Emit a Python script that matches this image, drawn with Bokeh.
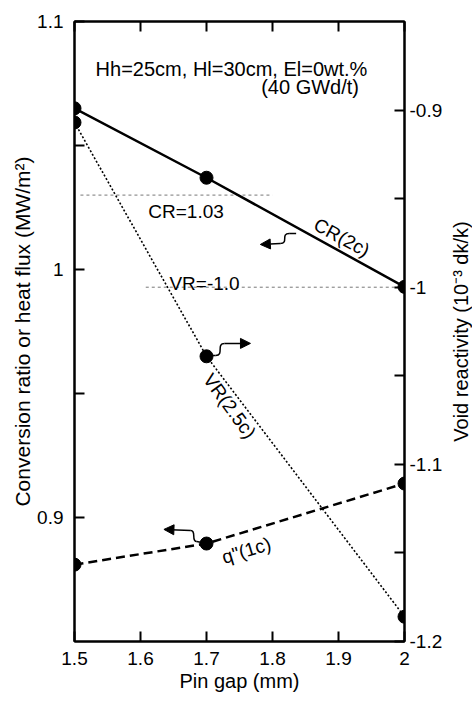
from bokeh.plotting import figure
from bokeh.layouts import row
from bokeh.models import (Range1d, LinearAxis, FixedTicker, CustomJSTickFormatter,
                          Arrow, NormalHead, Label)
from bokeh.embed import file_html
from bokeh.resources import INLINE

# ---- data ----
pin_gap = [1.5, 1.7, 2.0]
conversion_ratio = [1.065, 1.037, 0.993]      # CR(2c), left axis
void_reactivity = [-0.907, -1.039, -1.186]    # VR(2.5c), right axis
heat_flux = [0.881, 0.8895, 0.9137]           # q"(1c), left axis

x_ticks = [1.5, 1.6, 1.7, 1.8, 1.9, 2.0]
left_ticks = [0.9, 1.0, 1.1]
left_minor = [0.95, 1.05]
right_ticks = [-0.9, -1.0, -1.1, -1.2]
right_minor = [-0.95, -1.05, -1.15]
cr_target = 1.03
vr_target = -1.0

FONT = "Liberation Sans"
H = 698
TOP, BOTTOM = 21, 57

p = figure(width=445, height=H, x_range=Range1d(1.5, 2.0), y_range=Range1d(0.85, 1.1),
           output_backend="svg", toolbar_location=None,
           min_border_left=74, min_border_right=37, min_border_top=TOP, min_border_bottom=BOTTOM)
p.extra_y_ranges = {"vr": Range1d(-1.2, -0.85)}
p.grid.visible = False
p.outline_line_color = "black"
p.outline_line_width = 2
p.background_fill_color = "white"

fmt = CustomJSTickFormatter(code="return (Math.round(tick*100)/100).toString();")


def style(ax, label_size="19px"):
    ax.axis_line_color = "black"
    ax.axis_line_width = 2
    ax.major_tick_in = 10
    ax.major_tick_out = 0
    ax.minor_tick_in = 10
    ax.minor_tick_out = 0
    ax.major_tick_line_width = 2
    ax.minor_tick_line_width = 2
    ax.major_tick_line_color = "black"
    ax.minor_tick_line_color = "black"
    ax.major_label_text_font = FONT
    ax.major_label_text_font_size = label_size
    ax.major_label_text_color = "black"
    ax.axis_label_text_font = FONT
    ax.axis_label_text_font_size = "20px"
    ax.axis_label_text_font_style = "normal"
    ax.axis_label_text_color = "black"
    ax.axis_label_standoff = 0
    ax.formatter = fmt


xa = p.xaxis[0]
xa.ticker = FixedTicker(ticks=x_ticks)
style(xa)
xa.major_label_standoff = 10
xa.axis_label = "Pin gap (mm)"
xa.axis_label_standoff = 2

ya = p.yaxis[0]
ya.ticker = FixedTicker(ticks=left_ticks, minor_ticks=left_minor)
style(ya)
ya.major_label_standoff = 11
ya.axis_label = "Conversion ratio or heat flux (MW/m\u00b2)"
ya.axis_label_text_font_size = "21px"

ra = LinearAxis(y_range_name="vr", ticker=FixedTicker(ticks=right_ticks, minor_ticks=right_minor))
style(ra)
ra.major_label_standoff = 5
p.add_layout(ra, "right")

# top axis: ticks only (as minor ticks, so no labels are drawn)
ta = LinearAxis(ticker=FixedTicker(ticks=[], minor_ticks=x_ticks))
style(ta)
p.add_layout(ta, "above")

# ---- reference lines ----
p.line([1.509, 1.80], [cr_target, cr_target], line_color="#777777", line_width=1, line_dash="3 3")
p.line([1.608, 2.0], [vr_target, vr_target], line_color="#777777", line_width=1, line_dash="3 3",
       y_range_name="vr")

# ---- series ----
p.line(pin_gap, conversion_ratio, line_color="black", line_width=2.5)
p.scatter(pin_gap, conversion_ratio, size=13, fill_color="black", line_color="black")

p.line(pin_gap, void_reactivity, line_color="black", line_width=1.6, line_dash="2 2", y_range_name="vr")
p.scatter(pin_gap, void_reactivity, size=13, fill_color="black", line_color="black", y_range_name="vr")

p.line(pin_gap, heat_flux, line_color="black", line_width=2.5, line_dash="9 5")
p.scatter(pin_gap, heat_flux, size=13, fill_color="black", line_color="black")

# ---- texts ----
def lab(x, y, t, align="left", base="alphabetic", angle=0, size="20px", rng="default"):
    p.add_layout(Label(x=x, y=y, text=t, text_align=align, text_baseline=base, angle=angle,
                       angle_units="deg", text_font=FONT, text_font_size=size,
                       text_color="black", y_range_name=rng))

lab(1.532, 1.081, "Hh=25cm, Hl=30cm, El=0wt.%")
lab(1.931, 1.0734, "(40 GWd/t)", align="right")
lab(1.669, 1.0234, "CR=1.03", align="center", size="19px")
lab(1.697, -0.998, "VR=-1.0", align="center", size="19px", rng="vr")
lab(1.905, 1.0129, "CR(2c)", align="center", base="middle", angle=-28.5, size="19px")
lab(1.735, 0.945, "VR(2.5c)", align="center", base="middle", angle=-54, size="19px")
lab(1.7605, 0.8867, "q\"(1c)", align="center", base="middle", angle=16.8, size="19px")

# ---- squiggle arrows ----
def squiggle(p0, p1, p2, tip):
    p.line([p0[0], p1[0]], [p0[1], p1[1]], line_color="black", line_width=1.5)
    p.bezier(x0=[p1[0]], y0=[p1[1]], x1=[p2[0]], y1=[p2[1]],
             cx0=[p2[0]], cy0=[p1[1]], cx1=[p1[0]], cy1=[p2[1]],
             line_color="black", line_width=1.5)
    p.add_layout(Arrow(end=NormalHead(size=10, fill_color="black", line_color="black"),
                       x_start=p2[0], y_start=p2[1], x_end=tip[0], y_end=tip[1],
                       line_color="black", line_width=1.5))

squiggle((1.8358, 1.0145), (1.8253, 1.0145), (1.8117, 1.0105), (1.7816, 1.0101))
squiggle((1.6988, 0.9653), (1.7139, 0.9653), (1.7274, 0.9702), (1.7666, 0.9702))
squiggle((1.7003, 0.8895), (1.6852, 0.8903), (1.6762, 0.8948), (1.6355, 0.8952))

# ---- right-hand axis title (reads bottom-to-top, as in the reference) ----
p2 = figure(width=27, height=H, x_range=Range1d(0, 1), y_range=Range1d(-1.2, -0.85),
            output_backend="svg", toolbar_location=None,
            min_border_left=26, min_border_right=0, min_border_top=TOP, min_border_bottom=BOTTOM)
p2.xaxis.visible = False
p2.grid.visible = False
p2.outline_line_color = None
p2.background_fill_color = None
p2.border_fill_color = None
a2 = p2.yaxis[0]
a2.ticker = FixedTicker(ticks=[])
a2.axis_line_color = None
a2.major_tick_in = 0
a2.major_tick_out = 0
a2.minor_tick_in = 0
a2.minor_tick_out = 0
a2.major_label_standoff = 0
a2.axis_label = "Void reactivity (10\u207b\u00b3 dk/k)"
a2.axis_label_standoff = 0
a2.axis_label_text_font = FONT
a2.axis_label_text_font_size = "20px"
a2.axis_label_text_font_style = "normal"
a2.axis_label_text_color = "black"

layout = row(p, p2, spacing=0)
open("out.html", "w").write(file_html(layout, INLINE))
